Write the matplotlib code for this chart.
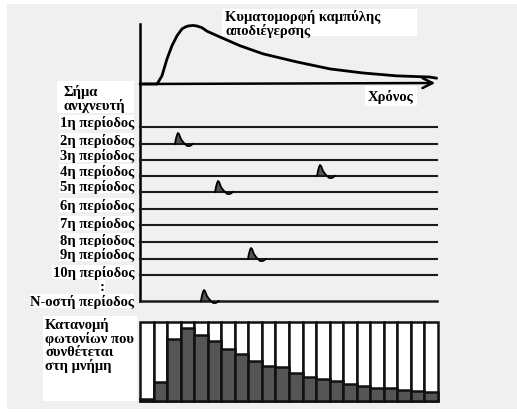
import matplotlib
matplotlib.use("Agg")
import matplotlib.pyplot as plt
from matplotlib.patches import Rectangle

# Decay curve (time in bins, relative intensity)
curve_t = [0, 1.26, 1.62, 1.99, 2.36, 2.73, 3.10, 3.32, 3.54, 3.90, 4.21, 4.58, 4.95,
           5.91, 7.38, 9.08, 11.59, 14.03, 16.46, 18.97, 21.41, 21.9]
curve_v = [0, 0, 0.14, 0.43, 0.66, 0.83, 0.95, 0.98, 1.0, 1.01, 1.0, 0.97, 0.91,
           0.81, 0.66, 0.52, 0.38, 0.26, 0.19, 0.14, 0.12, 0.10]

# Detector signal rows
period_labels = ["1η περίοδος", "2η περίοδος", "3η περίοδος", "4η περίοδος",
                 "5η περίοδος", "6η περίοδος", "7η περίοδος", "8η περίοδος",
                 "9η περίοδος", "10η περίοδος", "N-οστή περίοδος"]
# row index -> time (bins) where a photon pulse starts
pulse_row = [1, 3, 4, 8, 10]
pulse_time = [2.58, 13.07, 5.54, 7.97, 4.50]
# pulse shape: time offset (bins), height (px)
pulse_dt = [0, 0.07, 0.15, 0.22, 0.30, 0.44, 0.60, 0.74, 0.90, 1.10, 1.33]
pulse_h = [0, 5, 9, 11, 10, 5, 2, 0, -2, -2, 0]

# Photon histogram in memory (fraction of bar height)
hist = [0.03, 0.24, 0.79, 0.93, 0.84, 0.76, 0.66, 0.59, 0.50, 0.44, 0.43,
        0.35, 0.31, 0.28, 0.25, 0.21, 0.19, 0.16, 0.16, 0.14, 0.13, 0.11]

# layout (pixels)
W, H = 517, 414
X0, BIN = 140, 13.545
BASE_Y, AMP = 85, 58
row_y = [128, 145, 161, 177, 193, 210, 226, 243, 260, 276, 302]
label_y = [123, 141, 156, 172, 187, 206, 224, 241, 255, 273, 302]
BAR_BOT, BAR_H = 402, 79

FONT = dict(family="Liberation Serif", fontweight="bold", fontsize=10.5)

fig = plt.figure(figsize=(W / 100, H / 100), dpi=100)
fig.patches.append(Rectangle((7 / W, 4 / H), (W - 7) / W, 405 / H,
                             transform=fig.transFigure, facecolor="#f0f0f0",
                             edgecolor="none", zorder=-10))
ax = fig.add_axes([0, 0, 1, 1])
ax.set_xlim(-X0 / BIN, (W - X0) / BIN)
ax.set_ylim(H, 0)
ax.axis("off")
ax.patch.set_alpha(0)


def px(x):
    return (x - X0) / BIN


# top curve and axes
ax.plot(curve_t, [BASE_Y - AMP * v for v in curve_v], color="black", lw=2,
        solid_capstyle="round")
ax.plot([0, 0], [25, row_y[-1]], color="black", lw=1.8)
ax.annotate("", xy=(px(438), BASE_Y - 1), xytext=(0, BASE_Y),
            arrowprops=dict(arrowstyle="->", lw=1.8, color="black",
                            mutation_scale=18))

# detector rows
for y in row_y[:-1]:
    ax.plot([0, px(437)], [y, y], color="#1a1a1a", lw=1.5)
ax.plot([0, px(437)], [row_y[-1], row_y[-1]], color="#1a1a1a", lw=1.8)

for r, t in zip(pulse_row, pulse_time):
    xs = [t + d for d in pulse_dt]
    ys = [row_y[r] - h for h in pulse_h]
    ax.fill_between(xs, ys, row_y[r], where=[h >= 0 for h in pulse_h],
                    color="#555555", lw=0)
    ax.plot(xs, ys, color="black", lw=1.3)

# histogram bars
n = len(hist)
ax.bar(range(n), [-BAR_H] * n, bottom=BAR_BOT, width=1, align="edge",
       facecolor="white", edgecolor="#111111", lw=1.8)
ax.bar(range(n), [-BAR_H * h for h in hist], bottom=BAR_BOT, width=1,
       align="edge", facecolor="#555555", edgecolor="#111111", lw=1.8)

# texts
ax.add_patch(Rectangle((px(222), 10), (417 - 222) / BIN, 27,
                       facecolor="white", edgecolor="none"))
ax.text(px(225), 24, "Κυματομορφή καμπύλης\nαποδιέγερσης", ha="left",
        va="center", linespacing=1.0, **FONT)
ax.text(px(368), 97, "Χρόνος", ha="left", va="center",
        bbox=dict(facecolor="white", edgecolor="none", pad=2), **FONT)

ax.add_patch(Rectangle((px(57), 82), (134 - 57) / BIN, 32,
                       facecolor="white", edgecolor="none"))
ax.text(px(63), 99, "Σήμα\nανιχνευτή", ha="left", va="center",
        linespacing=1.0, **FONT)
for lab, y in zip(period_labels, label_y):
    ax.text(px(134), y, lab, ha="right", va="center",
            bbox=dict(facecolor="white", edgecolor="none", pad=0.3), **FONT)
ax.text(px(102), 288, ":", ha="center", va="center",
        bbox=dict(facecolor="white", edgecolor="none", pad=0.3), **FONT)

ax.add_patch(Rectangle((px(43), 317), (137 - 43) / BIN, 85,
                       facecolor="white", edgecolor="none"))
ax.text(px(45), 318, "Κατανομή\nφωτονίων που\nσυνθέτεται\nστη μνήμη",
        ha="left", va="top", linespacing=1.0, **FONT)

fig.savefig("out.png", dpi=100)
